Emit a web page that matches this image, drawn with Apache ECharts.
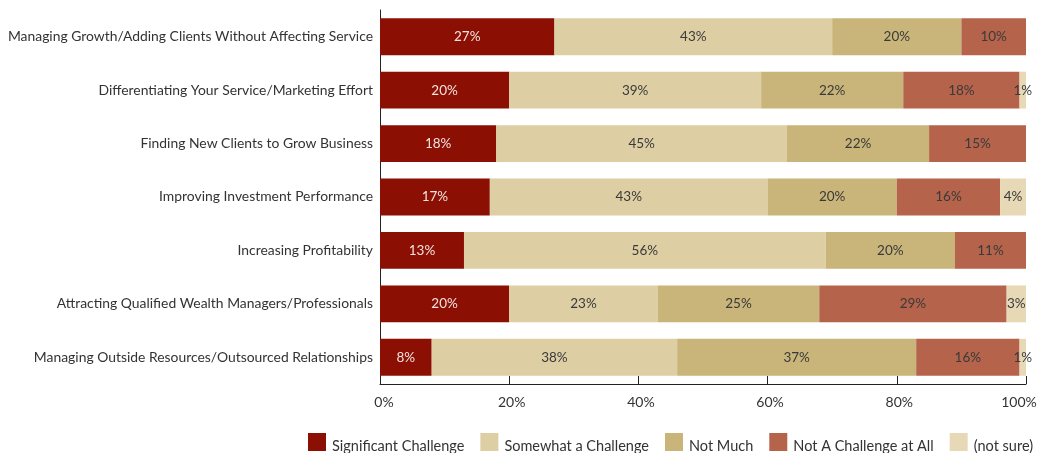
<!DOCTYPE html>
<html>
<head>
<meta charset="utf-8">
<script src="https://cdn.jsdelivr.net/npm/echarts@6/dist/echarts.min.js"></script>
<style>
html,body{margin:0;padding:0;background:#fff;}
#chart{width:1037px;height:453px;}
</style>
</head>
<body>
<div id="chart"></div>
<script>
const categories = [
  "Managing Growth/Adding Clients Without Affecting Service",
  "Differentiating Your Service/Marketing Effort",
  "Finding New Clients to Grow Business",
  "Improving Investment Performance",
  "Increasing Profitability",
  "Attracting Qualified Wealth Managers/Professionals",
  "Managing Outside Resources/Outsourced Relationships"
];
const seriesNames = ["Significant Challenge", "Somewhat a Challenge", "Not Much", "Not A Challenge at All", "(not sure)"];
const significant = [27, 20, 18, 17, 13, 20, 8];
const somewhat    = [43, 39, 45, 43, 56, 23, 38];
const notMuch     = [20, 22, 22, 20, 20, 25, 37];
const notAtAll    = [10, 18, 15, 16, 11, 29, 16];
const notSure     = [0, 1, 0, 4, 0, 3, 1];
const xTicks = [0, 20, 40, 60, 80, 100];

const colors = ["#8B0F03", "#DDCEA4", "#C9B479", "#B5634B", "#E7D9B6"];
const values = [significant, somewhat, notMuch, notAtAll, notSure];
const FONT = "Lato, 'DejaVu Sans', sans-serif";

const chart = echarts.init(document.getElementById('chart'));
chart.setOption({
  animation: false,
  textStyle: { fontFamily: FONT },
  grid: { left: 380, right: 11, top: 10, bottom: 69, containLabel: false, outerBoundsMode: 'none' },
  legend: {
    data: seriesNames,
    left: 308,
    top: 433,
    width: 900,
    padding: 0,
    itemWidth: 18,
    itemHeight: 18,
    itemGap: 16,
    icon: 'rect',
    formatter: name => '{t|' + name + '}',
    textStyle: {
      fontFamily: FONT, fontSize: 14.5, color: '#333',
      rich: { t: { fontFamily: FONT, fontSize: 14.5, color: '#333', padding: [8, 0, 0, 1] } }
    }
  },
  xAxis: {
    type: 'value',
    min: xTicks[0],
    max: xTicks[xTicks.length - 1],
    interval: 20,
    axisLine: { show: true, lineStyle: { color: '#222', width: 1 } },
    axisTick: { show: true, inside: true, length: 8, lineStyle: { color: '#222' } },
    splitLine: { show: false },
    axisLabel: {
      formatter: v => v === xTicks[0] ? '{first|' + v + '%}' : (v === xTicks[xTicks.length - 1] ? '{last|' + v + '%}' : '{mid|' + v + '%}'),
      fontSize: 14, color: '#333', margin: 11, fontFamily: FONT,
      rich: {
        first: { fontSize: 14, color: '#333', fontFamily: FONT, padding: [0, 0, 0, 8] },
        mid: { fontSize: 14, color: '#333', fontFamily: FONT, padding: [0, 0, 0, 5] },
        last: { fontSize: 14, color: '#333', fontFamily: FONT, padding: [0, 14, 0, 0] }
      }
    }
  },
  yAxis: {
    type: 'category',
    data: categories,
    inverse: true,
    axisLine: { show: true, lineStyle: { color: '#222', width: 1 } },
    axisTick: { show: false },
    axisLabel: { fontSize: 13.9, color: '#333', margin: 7, fontFamily: FONT }
  },
  series: seriesNames.map((name, i) => ({
    name: name,
    type: 'bar',
    stack: 'total',
    barCategoryGap: '31%',
    itemStyle: { color: colors[i] },
    data: values[i].map(v => v === 0 ? null : v),
    label: {
      show: true,
      position: 'inside',
      formatter: p => p.value + '%',
      fontSize: 13.5,
      fontFamily: FONT,
      color: i === 0 ? '#F3E3DF' : '#3a3a3a'
    }
  }))
});
</script>
</body>
</html>
